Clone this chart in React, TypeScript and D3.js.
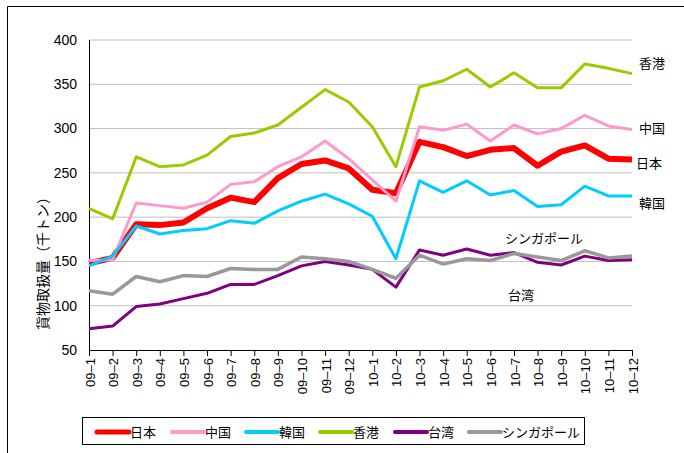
import * as d3 from 'd3';
import React from 'react';

// months on the x axis
const months = [
  '09–1', '09–2', '09–3', '09–4', '09–5', '09–6', '09–7', '09–8', '09–9', '09–10', '09–11', '09–12',
  '10–1', '10–2', '10–3', '10–4', '10–5', '10–6', '10–7', '10–8', '10–9', '10–10', '10–11', '10–12',
];

// cargo volume (thousand tons)
const japan = [148, 154, 192, 191, 194, 210, 222, 217, 244, 260, 264, 255, 231, 227, 285, 279, 269, 276, 278, 258, 274, 281, 266, 265];
const china = [151, 152, 216, 213, 210, 217, 237, 240, 257, 268, 286, 266, 242, 218, 302, 298, 305, 286, 304, 294, 300, 315, 303, 299];
const korea = [145, 156, 190, 181, 185, 187, 196, 193, 207, 218, 226, 215, 201, 153, 241, 228, 241, 225, 230, 212, 214, 235, 224, 224];
const hongkong = [210, 198, 268, 257, 259, 270, 291, 295, 304, 324, 344, 330, 302, 257, 347, 354, 367, 347, 363, 346, 346, 373, 368, 362];
const taiwan = [74, 77, 99, 102, 108, 114, 124, 124, 134, 145, 150, 146, 141, 121, 163, 157, 164, 157, 160, 149, 146, 156, 151, 152];
const singapore = [117, 113, 133, 127, 134, 133, 142, 141, 141, 155, 153, 150, 141, 131, 157, 147, 153, 151, 159, 155, 151, 162, 154, 156];

const yTicks = [50, 100, 150, 200, 250, 300, 350, 400];

// series in draw order (later ones on top)
const series = [
  { name: '日本', values: japan, color: '#ff0000', width: 6, label: [636, 163] },
  { name: '中国', values: china, color: '#ff99cc', width: 3, label: [639, 128] },
  { name: '韓国', values: korea, color: '#00ccff', width: 3, label: [639, 203] },
  { name: '香港', values: hongkong, color: '#99cc00', width: 3, label: [639, 63] },
  { name: '台湾', values: taiwan, color: '#800080', width: 3, label: [508, 295] },
  { name: 'シンガポール', values: singapore, color: '#999999', width: 3.5, label: [505, 238] },
];

export default function App() {
  const width = 684;
  const height = 453;
  const left = 89;
  const right = 632;
  const top = 40;
  const bottom = 350;

  const x = d3.scalePoint().domain(months).range([left, right]);
  const y = d3.scaleLinear().domain([50, 400]).range([bottom, top]);

  const line = d3
    .line<number>()
    .x((d, i) => x(months[i]) as number)
    .y(d => y(d));

  const font = '"Liberation Sans", Arial, sans-serif';
  const jpFont = '"Noto Sans CJK JP", sans-serif';

  // legend layout
  const legendX = [97, 172, 246, 320, 395, 469];

  return (
    <svg
      width={width}
      height={height}
      style={{ position: 'absolute', left: 0, top: 0, background: '#fff' }}
    >
      <rect x={0} y={0} width={width} height={height} fill="#fff" />
      {/* outer frame (only top and left visible) */}
      <path d={`M7.5,${height} V6.5 H${width}`} fill="none" stroke="#000" strokeWidth={1} />

      {/* gridlines */}
      {yTicks.slice(1).map(t => (
        <line key={t} x1={left} x2={right} y1={y(t)} y2={y(t)} stroke="#c0c0c0" strokeWidth={1} />
      ))}

      {/* y tick labels */}
      {yTicks.map(t => (
        <text key={t} x={77} y={y(t)} dy="0.35em" textAnchor="end" fontFamily={font} fontSize={14} fill="#000">
          {t}
        </text>
      ))}

      {/* y axis title */}
      <text
        transform={`translate(43,${(top + bottom) / 2 + 65}) rotate(-90)`}
        textAnchor="middle"
        dy="0.35em"
        fontFamily={jpFont}
        fontSize={14}
        fill="#000"
      >
        貨物取扱量（千トン）
      </text>

      {/* axes */}
      <line x1={left + 0.5} x2={left + 0.5} y1={top} y2={bottom} stroke="#000" />
      <line x1={left} x2={right + 1} y1={bottom + 0.5} y2={bottom + 0.5} stroke="#000" />
      {months.map(m => (
        <line
          key={m}
          x1={(x(m) as number) + 0.5}
          x2={(x(m) as number) + 0.5}
          y1={bottom}
          y2={bottom + 6}
          stroke="#000"
        />
      ))}
      {months.map(m => (
        <text
          key={m}
          transform={`translate(${(x(m) as number) + 1},358) rotate(-90)`}
          textAnchor="end"
          dy="0.35em"
          fontFamily={font}
          fontSize={13}
          fill="#000"
        >
          {m}
        </text>
      ))}

      {/* lines */}
      {series.map(s => (
        <path
          key={s.name}
          d={line(s.values) as string}
          fill="none"
          stroke={s.color}
          strokeWidth={s.width}
          strokeLinejoin="round"
        />
      ))}

      {/* direct labels */}
      {series.map(s => (
        <text
          key={s.name}
          x={s.label[0]}
          y={s.label[1]}
          dy="0.35em"
          fontFamily={jpFont}
          fontSize={13}
          fill="#000"
        >
          {s.name}
        </text>
      ))}

      {/* legend */}
      <rect x={82.5} y={417.5} width={502} height={27} fill="#fff" stroke="#000" strokeWidth={1} />
      {series.map((s, i) => (
        <g key={s.name}>
          <line
            x1={legendX[i]}
            x2={legendX[i] + 32}
            y1={432}
            y2={432}
            stroke={s.color}
            strokeWidth={s.name === '日本' ? 5 : 4}
            strokeLinecap="round"
          />
          <text x={legendX[i] + 33} y={432} dy="0.35em" fontFamily={jpFont} fontSize={13} fill="#000">
            {s.name}
          </text>
        </g>
      ))}
    </svg>
  );
}
